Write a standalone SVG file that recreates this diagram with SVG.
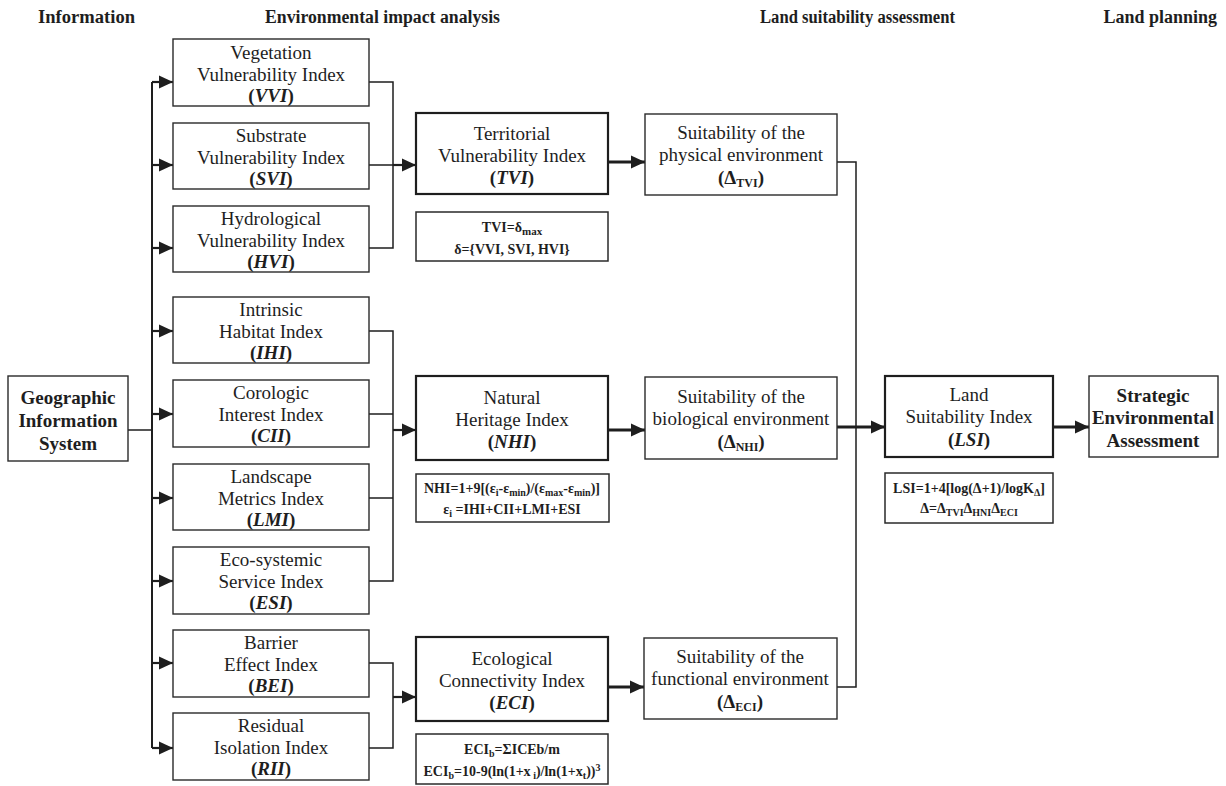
<svg xmlns="http://www.w3.org/2000/svg" width="1226" height="786" viewBox="0 0 1226 786">
<style>
text{font-family:"Liberation Serif","Times New Roman",serif;fill:#1e1e1e;text-anchor:middle}
.t{font-size:19px}
.b{font-weight:bold}
.h{font-size:18px;font-weight:bold;text-anchor:start}
.f{font-size:14px;font-weight:bold}
.box{fill:#fff;stroke:#2a2a2a;stroke-width:1.4}
.bx2{fill:#fff;stroke:#1e1e1e;stroke-width:2.2}
.fb{fill:#fff;stroke:#2a2a2a;stroke-width:1.5}
.ln{fill:none;stroke:#1e1e1e;stroke-width:1.5}
.sp{fill:none;stroke:#1e1e1e;stroke-width:2}
.ar{fill:none;stroke:#1e1e1e;stroke-width:2.2;marker-end:url(#ah)}
.ak{fill:none;stroke:#1e1e1e;stroke-width:3;marker-end:url(#ah)}
</style>
<defs>
<marker id="ah" markerUnits="userSpaceOnUse" markerWidth="14" markerHeight="14" refX="14" refY="7" orient="auto">
<path d="M0,0.5 L14,7 L0,13.5 z" fill="#1e1e1e"/>
</marker>
</defs>
<rect width="1226" height="786" fill="#fff"/>

<g id="headers">
<text class="h" x="38" y="23" textLength="97" lengthAdjust="spacingAndGlyphs">Information</text>
<text class="h" x="265" y="23" textLength="235" lengthAdjust="spacingAndGlyphs">Environmental impact analysis</text>
<text class="h" x="760" y="23" textLength="195" lengthAdjust="spacingAndGlyphs">Land suitability assessment</text>
<text class="h" x="1217" y="23" font-size="16.5" style="text-anchor:end">Land planning</text>
</g>

<g id="connectors">
<line class="ln" x1="128" y1="430" x2="152" y2="430"/>
<line class="sp" x1="152" y1="82" x2="152" y2="748"/>
<line class="ar" x1="152" y1="82" x2="173" y2="82"/>
<line class="ar" x1="152" y1="165" x2="173" y2="165"/>
<line class="ar" x1="152" y1="248" x2="173" y2="248"/>
<line class="ar" x1="152" y1="331" x2="173" y2="331"/>
<line class="ar" x1="152" y1="414" x2="173" y2="414"/>
<line class="ar" x1="152" y1="498" x2="173" y2="498"/>
<line class="ar" x1="152" y1="581" x2="173" y2="581"/>
<line class="ar" x1="152" y1="663" x2="173" y2="663"/>
<line class="ar" x1="152" y1="748" x2="173" y2="748"/>
<polyline class="ln" points="369,82 393,82 393,248 369,248"/>
<line class="ln" x1="369" y1="165" x2="393" y2="165"/>
<line class="ar" x1="393" y1="165" x2="416" y2="165"/>
<polyline class="ln" points="369,331 393,331 393,581 369,581"/>
<line class="ln" x1="369" y1="414" x2="393" y2="414"/>
<line class="ln" x1="369" y1="498" x2="393" y2="498"/>
<line class="ar" x1="393" y1="430" x2="416" y2="430"/>
<polyline class="ln" points="369,663 393,663 393,748 369,748"/>
<line class="ar" x1="393" y1="697" x2="416" y2="697"/>
<line class="ak" x1="608" y1="162" x2="645" y2="162"/>
<line class="ak" x1="608" y1="430" x2="645" y2="430"/>
<line class="ak" x1="608" y1="687" x2="644" y2="687"/>
<polyline class="ln" points="837,162 856,162 856,687 837,687"/>
<line class="ak" x1="837" y1="427" x2="885" y2="427"/>
<line class="ak" x1="1053" y1="427" x2="1089" y2="427"/>
</g>

<g id="gis">
<rect class="box" x="8" y="376" width="120" height="85"/>
<text class="t b" x="68" y="404">Geographic</text>
<text class="t b" x="68" y="427">Information</text>
<text class="t b" x="68" y="450">System</text>
</g>

<g id="vvi">
<rect class="box" x="173" y="39" width="196" height="67"/>
<text class="t" x="271" y="59">Vegetation</text>
<text class="t" x="271" y="81">Vulnerability Index</text>
<text class="t b" x="271" y="102">(<tspan font-style="italic">VVI</tspan>)</text>
</g>
<g id="svi">
<rect class="box" x="173" y="123" width="196" height="66"/>
<text class="t" x="271" y="142">Substrate</text>
<text class="t" x="271" y="164">Vulnerability Index</text>
<text class="t b" x="271" y="185">(<tspan font-style="italic">SVI</tspan>)</text>
</g>
<g id="hvi">
<rect class="box" x="173" y="206" width="196" height="66"/>
<text class="t" x="271" y="225">Hydrological</text>
<text class="t" x="271" y="247">Vulnerability Index</text>
<text class="t b" x="271" y="268">(<tspan font-style="italic">HVI</tspan>)</text>
</g>
<g id="ihi">
<rect class="box" x="173" y="297" width="196" height="66"/>
<text class="t" x="271" y="316">Intrinsic</text>
<text class="t" x="271" y="338">Habitat Index</text>
<text class="t b" x="271" y="359">(<tspan font-style="italic">IHI</tspan>)</text>
</g>
<g id="cii">
<rect class="box" x="173" y="380" width="196" height="67"/>
<text class="t" x="271" y="399">Corologic</text>
<text class="t" x="271" y="421">Interest Index</text>
<text class="t b" x="271" y="442">(<tspan font-style="italic">CII</tspan>)</text>
</g>
<g id="lmi">
<rect class="box" x="173" y="464" width="196" height="66"/>
<text class="t" x="271" y="483">Landscape</text>
<text class="t" x="271" y="505">Metrics Index</text>
<text class="t b" x="271" y="526">(<tspan font-style="italic">LMI</tspan>)</text>
</g>
<g id="esi">
<rect class="box" x="173" y="547" width="196" height="67"/>
<text class="t" x="271" y="566">Eco-systemic</text>
<text class="t" x="271" y="588">Service Index</text>
<text class="t b" x="271" y="609">(<tspan font-style="italic">ESI</tspan>)</text>
</g>
<g id="bei">
<rect class="box" x="173" y="630" width="196" height="67"/>
<text class="t" x="271" y="649">Barrier</text>
<text class="t" x="271" y="671">Effect Index</text>
<text class="t b" x="271" y="692">(<tspan font-style="italic">BEI</tspan>)</text>
</g>
<g id="rii">
<rect class="box" x="173" y="713" width="196" height="67"/>
<text class="t" x="271" y="732">Residual</text>
<text class="t" x="271" y="754">Isolation Index</text>
<text class="t b" x="271" y="775">(<tspan font-style="italic">RII</tspan>)</text>
</g>

<g id="tvi">
<rect class="bx2" x="416" y="113" width="192" height="81"/>
<text class="t" x="512" y="140">Territorial</text>
<text class="t" x="512" y="162">Vulnerability Index</text>
<text class="t b" x="512" y="184">(<tspan font-style="italic">TVI</tspan>)</text>
</g>
<g id="tvi-formula">
<rect class="fb" x="416" y="212" width="192" height="49"/>
<text class="f" x="512" y="232">TVI=δ<tspan font-size="11" dy="3">max</tspan></text>
<text class="f" x="512" y="254">δ={VVI, SVI, HVI}</text>
</g>
<g id="nhi">
<rect class="bx2" x="416" y="376" width="192" height="84"/>
<text class="t" x="512" y="404">Natural</text>
<text class="t" x="512" y="426">Heritage Index</text>
<text class="t b" x="512" y="448">(<tspan font-style="italic">NHI</tspan>)</text>
</g>
<g id="nhi-formula">
<rect class="fb" x="416" y="474" width="193" height="48"/>
<text class="f" x="512" y="493">NHI=1+9[(ε<tspan font-size="10" dy="3">i</tspan><tspan dy="-3">-ε</tspan><tspan font-size="10" dy="3">min</tspan><tspan dy="-3">)/(ε</tspan><tspan font-size="10" dy="3">max</tspan><tspan dy="-3">-ε</tspan><tspan font-size="10" dy="3">min</tspan><tspan dy="-3">)]</tspan></text>
<text class="f" x="512" y="514">ε<tspan font-size="10" dy="3">i</tspan><tspan dy="-3"> =IHI+CII+LMI+ESI</tspan></text>
</g>
<g id="eci">
<rect class="bx2" x="416" y="637" width="192" height="84"/>
<text class="t" x="512" y="665">Ecological</text>
<text class="t" x="512" y="687">Connectivity Index</text>
<text class="t b" x="512" y="709">(<tspan font-style="italic">ECI</tspan>)</text>
</g>
<g id="eci-formula">
<rect class="fb" x="416" y="734" width="192" height="50"/>
<text class="f" x="512" y="754">ECI<tspan font-size="10" dy="3">b</tspan><tspan dy="-3">=ΣICEb/m</tspan></text>
<text class="f" x="512" y="776">ECI<tspan font-size="10" dy="3">b</tspan><tspan dy="-3">=10-9(ln(1+x</tspan><tspan font-size="10" dy="3"> i</tspan><tspan dy="-3">)/ln(1+x</tspan><tspan font-size="10" dy="3">t</tspan><tspan dy="-3">))</tspan><tspan font-size="10" dy="-5">3</tspan></text>
</g>

<g id="phys">
<rect class="box" x="645" y="114" width="192" height="81"/>
<text class="t" x="741" y="139">Suitability of the</text>
<text class="t" x="741" y="161">physical environment</text>
<text class="t b" x="741" y="184">(Δ<tspan font-size="12" dy="3">TVI</tspan><tspan dy="-3">)</tspan></text>
</g>
<g id="bio">
<rect class="box" x="645" y="377" width="192" height="82"/>
<text class="t" x="741" y="403">Suitability of the</text>
<text class="t" x="741" y="425">biological environment</text>
<text class="t b" x="741" y="448">(Δ<tspan font-size="12" dy="3">NHI</tspan><tspan dy="-3">)</tspan></text>
</g>
<g id="func">
<rect class="box" x="644" y="638" width="193" height="81"/>
<text class="t" x="740" y="663">Suitability of the</text>
<text class="t" x="740" y="685">functional environment</text>
<text class="t b" x="740" y="708">(Δ<tspan font-size="12" dy="3">ECI</tspan><tspan dy="-3">)</tspan></text>
</g>

<g id="lsi">
<rect class="bx2" x="885" y="376" width="168" height="81"/>
<text class="t" x="969" y="401">Land</text>
<text class="t" x="969" y="423">Suitability Index</text>
<text class="t b" x="969" y="446">(<tspan font-style="italic">LSI</tspan>)</text>
</g>
<g id="lsi-formula">
<rect class="fb" x="885" y="473" width="168" height="50"/>
<text class="f" x="969" y="493">LSI=1+4[log(Δ+1)/logK<tspan font-size="10" dy="3">Δ</tspan><tspan dy="-3">]</tspan></text>
<text class="f" x="969" y="513" font-weight="normal">Δ=Δ<tspan font-size="10" dy="3">TVI</tspan><tspan dy="-3">Δ</tspan><tspan font-size="10" dy="3">HNI</tspan><tspan dy="-3">Δ</tspan><tspan font-size="10" dy="3">ECI</tspan></text>
</g>

<g id="sea">
<rect class="box" x="1089" y="376" width="129" height="81"/>
<text class="t b" x="1153" y="402">Strategic</text>
<text class="t b" x="1153" y="424">Environmental</text>
<text class="t b" x="1153" y="447">Assessment</text>
</g>
</svg>
